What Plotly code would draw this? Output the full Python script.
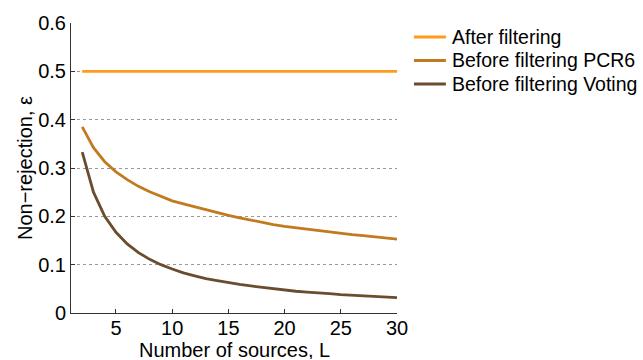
import plotly.graph_objects as go

L = list(range(2, 31))
after_filtering = [0.5] * len(L)
before_pcr6 = [0.385, 0.342, 0.313, 0.292, 0.276, 0.262, 0.251, 0.241, 0.232,
               0.226, 0.220, 0.214, 0.207, 0.202, 0.197, 0.192, 0.187, 0.183,
               0.179, 0.176, 0.173, 0.170, 0.167, 0.164, 0.162, 0.160, 0.158,
               0.155, 0.153]
before_voting = [0.333, 0.250, 0.200, 0.167, 0.143, 0.125, 0.111, 0.100, 0.091,
                 0.083, 0.077, 0.071, 0.067, 0.0625, 0.059, 0.056, 0.053, 0.050,
                 0.048, 0.045, 0.043, 0.042, 0.040, 0.038, 0.037, 0.036, 0.034,
                 0.033, 0.032]
series_names = ["After filtering", "Before filtering PCR6", "Before filtering Voting"]
series_colors = ["#FF9A1A", "#C27A1F", "#6A4C2E"]
x_ticks = [5, 10, 15, 20, 25, 30]
y_ticks = [0, 0.1, 0.2, 0.3, 0.4, 0.5, 0.6]
y_tick_labels = ["0", "0.1", "0.2", "0.3", "0.4", "0.5", "0.6"]

FONT = "Liberation Sans, Arial, Helvetica, sans-serif"
FS = 20

fig = go.Figure()
for name, ys, col in zip(series_names, [after_filtering, before_pcr6, before_voting], series_colors):
    fig.add_trace(go.Scatter(x=L, y=ys, mode="lines", name=name,
                             line=dict(color=col, width=2.8), showlegend=False))

# manual legend (paper coordinates), placed right of the axes
leg_y = [0.9517, 0.8707, 0.7897]
for name, col, yy in zip(series_names, series_colors, leg_y):
    fig.add_shape(type="line", xref="paper", yref="paper",
                  x0=1.052, x1=1.150, y0=yy, y1=yy,
                  line=dict(color=col, width=2.8))
    fig.add_annotation(xref="paper", yref="paper", x=1.162, y=yy,
                       xanchor="left", yanchor="middle", showarrow=False,
                       text=name, font=dict(size=19.5, color="black"))

# x axis title as annotation to control its vertical position
fig.add_annotation(xref="paper", yref="paper", x=0.5, y=0, yshift=-26,
                   xanchor="center", yanchor="top", showarrow=False, height=18,
                   text="Number of sources, L", font=dict(size=FS, color="black"))

fig.update_layout(
    width=643, height=360,
    margin=dict(l=71, r=246, t=17, b=47),
    paper_bgcolor="white", plot_bgcolor="white",
    font=dict(family=FONT, size=FS, color="black"),
    showlegend=False,
    xaxis=dict(range=[1, 30], tickvals=x_ticks, ticks="inside", ticklen=4,
               tickcolor="#333", showline=True, linecolor="#333", linewidth=1,
               showgrid=False, zeroline=False, tickfont=dict(size=FS),
               ticklabelstandoff=-3),
    yaxis=dict(range=[0, 0.6], tickvals=y_ticks, ticktext=y_tick_labels,
               ticks="inside", ticklen=4, tickcolor="#333", showline=True,
               linecolor="#333", linewidth=1, showgrid=True, gridcolor="#999",
               griddash="dot", gridwidth=1, zeroline=False, tickfont=dict(size=FS),
               title=dict(text="Non\u2212rejection, \u03b5", font=dict(size=FS), standoff=0)),
)

fig.write_html("out.html", config=dict(displayModeBar=False),
               post_script="document.body.style.margin='0';document.body.style.overflow='hidden';")
